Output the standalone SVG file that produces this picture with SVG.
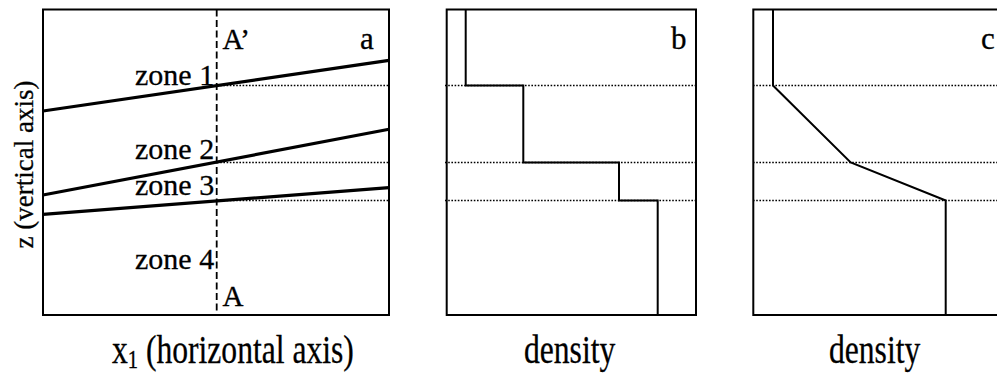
<svg xmlns="http://www.w3.org/2000/svg" width="997" height="389" viewBox="0 0 997 389">
  <style>
    .frame { fill: none; stroke: #000; stroke-width: 2; }
    .layer { fill: none; stroke: #000; stroke-width: 3.2; stroke-linecap: butt; }
    .profile { fill: none; stroke: #000; stroke-width: 2; stroke-linejoin: miter; }
    .dotted { fill: none; stroke: #000; stroke-width: 1.3; stroke-dasharray: 1.6 1.6; }
    .section { fill: none; stroke: #000; stroke-width: 1.8; stroke-dasharray: 7 3.5; }
    text { font-family: "Liberation Serif", "Times New Roman", serif; fill: #000; stroke: #000; stroke-width: 0.3; }
    .zone { font-size: 30px; }
    .tag { font-size: 31px; }
    .mark { font-size: 29px; }
    .axis { font-size: 40px; }
    .vaxis { font-size: 27px; }
  </style>
  <rect width="997" height="389" fill="#fff"/>

  <!-- panel a: cross-section with inclined layer boundaries -->
  <g id="panel-a">
    <rect class="frame" x="43" y="9.5" width="346" height="305.5"/>
    <line class="layer" x1="43" y1="111" x2="389" y2="60.3"/>
    <line class="layer" x1="43" y1="195" x2="389" y2="129.3"/>
    <line class="layer" x1="43" y1="214.3" x2="389" y2="187.7"/>
    <line class="section" x1="216.7" y1="9.5" x2="216.7" y2="315"/>
    <line class="dotted" x1="217" y1="85.5" x2="389" y2="85.5"/>
    <line class="dotted" x1="217" y1="162.5" x2="389" y2="162.5"/>
    <line class="dotted" x1="217" y1="200.5" x2="389" y2="200.5"/>
    <text class="zone" x="135" y="85">zone 1</text>
    <text class="zone" x="135" y="159">zone 2</text>
    <text class="zone" x="135" y="195">zone 3</text>
    <text class="zone" x="135" y="268.5">zone 4</text>
    <text class="mark" x="222.5" y="48.5">A’</text>
    <text class="mark" x="222.5" y="306">A</text>
    <text class="tag" x="360" y="48.5">a</text>
  </g>

  <!-- panel b: stepwise density profile -->
  <g id="panel-b">
    <rect class="frame" x="446.7" y="9.5" width="249.3" height="305.5"/>
    <line class="dotted" x1="445" y1="85.5" x2="696" y2="85.5"/>
    <line class="dotted" x1="445" y1="162.5" x2="696" y2="162.5"/>
    <line class="dotted" x1="445" y1="200.5" x2="696" y2="200.5"/>
    <polyline class="profile" points="465.7,9.5 465.7,85.5 523.3,85.5 523.3,162.5 619,162.5 619,200.5 657.7,200.5 657.7,315"/>
    <text class="tag" x="671" y="49">b</text>
  </g>

  <!-- panel c: piecewise-linear density profile -->
  <g id="panel-c">
    <rect class="frame" x="753.3" y="9.5" width="260" height="305.5"/>
    <line class="dotted" x1="753" y1="85.5" x2="997" y2="85.5"/>
    <line class="dotted" x1="753" y1="162.5" x2="997" y2="162.5"/>
    <line class="dotted" x1="753" y1="200.5" x2="997" y2="200.5"/>
    <polyline class="profile" points="773,9.5 773,85.5 850.7,162.5 945.7,200.5 945.7,315"/>
    <text class="tag" x="981" y="49">c</text>
  </g>

  <!-- axis captions (condensed serif) -->
  <g id="captions">
    <text class="vaxis" transform="translate(33,164.5) rotate(-90)" text-anchor="middle">z (vertical axis)</text>
    <text class="axis" transform="translate(112,363) scale(0.79,1)">x<tspan font-size="26" dy="5">1</tspan><tspan dy="-5"> (horizontal axis)</tspan></text>
    <text class="axis" transform="translate(524,363) scale(0.79,1)">density</text>
    <text class="axis" transform="translate(829,363) scale(0.79,1)">density</text>
  </g>
</svg>
